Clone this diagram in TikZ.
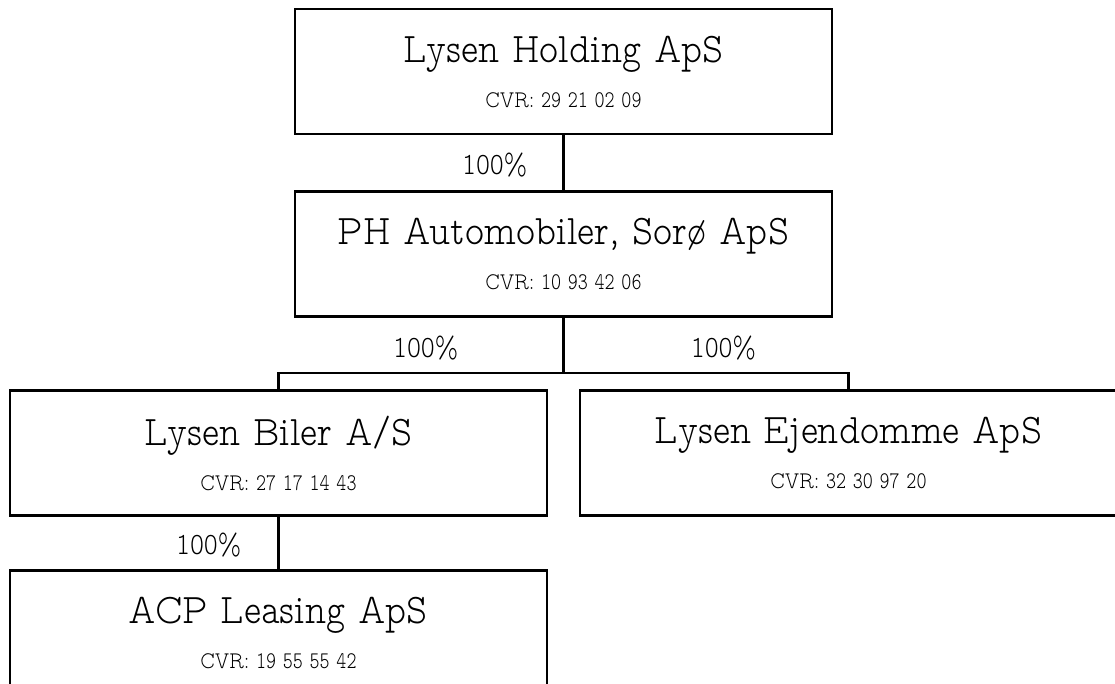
\documentclass[tikz,border=0pt]{standalone}
\usepackage{fontspec}
\usetikzlibrary{positioning}

\newfontfamily\slabfont[FakeStretch=0.86]{lmmonoproplt10-regular.otf}
\newfontfamily\cvrfont[FakeStretch=0.8]{lmmonoproplt10-regular.otf}
\newcommand{\firm}[2]{{\slabfont\fontsize{30}{32}\selectfont #1}\\{\cvrfont\fontsize{17}{32}\selectfont CVR: #2}}

\begin{document}
\begin{tikzpicture}
    [ company/.style =
      { draw, line width = 2pt, minimum width = 13.425cm, minimum height = 3.125cm
      , inner sep = 0pt, align = center, font = \cvrfont\fontsize{17}{32}\selectfont }
    , owns/.style =
      { line width = 1.8pt }
    , share/.style =
      { inner sep = 0pt, font = \slabfont\fontsize{22}{24}\selectfont }
    ]
    \path [use as bounding box, clip] (0,0) rectangle (27.875,-17.075);

    \node [company] (holding) at (14.0875,-1.7875) {\firm{Lysen Holding ApS}{29 21 02 09}};
    \node [company] (automobiler) [below=1.375cm of holding] {\firm{PH Automobiler, Sorø ApS}{10 93 42 06}};
    \node [company] (biler) [below=1.775cm of automobiler, xshift=-7.125cm] {\firm{Lysen Biler A/S}{27 17 14 43}};
    \node [company] (ejendomme) [below=1.775cm of automobiler, xshift=7.125cm] {\firm{Lysen Ejendomme ApS}{32 30 97 20}};
    \node [company] (leasing) [below=1.3cm of biler] {\firm{ACP Leasing ApS}{19 55 55 42}};

    \coordinate [below=1.375cm of automobiler.south] (split);

    \node [share] (p1) [above left=0.325cm and 0.9cm of automobiler.north] {100\%};
    \node [share] (p2) [above left=0.325cm and 2.625cm of split] {100\%};
    \node [share] (p3) [above right=0.325cm and 3.175cm of split] {100\%};
    \node [share] (p4) [above left=0.3cm and 0.925cm of leasing.north] {100\%};

    \draw [owns] (holding) -- (automobiler);
    \draw [owns] (automobiler) -- (split) -| (biler);
    \draw [owns] (split) -| (ejendomme);
    \draw [owns] (biler) -- (leasing);
\end{tikzpicture}
\end{document}
